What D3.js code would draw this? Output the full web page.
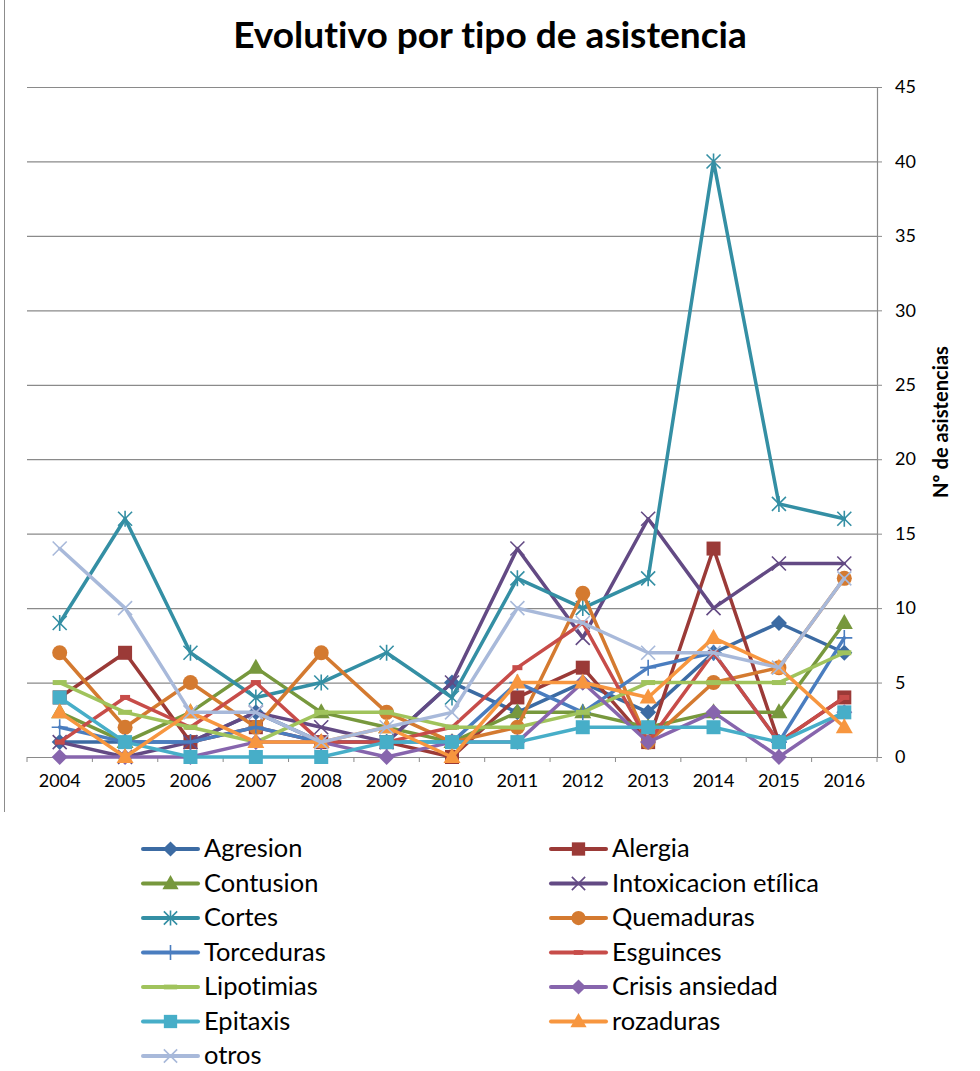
<!DOCTYPE html>
<html>
<head>
<meta charset="utf-8">
<script src="https://cdn.jsdelivr.net/npm/d3@7"></script>
<style>
  html, body { margin: 0; padding: 0; background: #fff; }
  svg { display: block; }
  text { font-family: Lato, "Open Sans", sans-serif; fill: #000; font-variant-ligatures: none; font-feature-settings: "liga" 0, "dlig" 0; }
</style>
</head>
<body>
<svg id="chart" width="980" height="1071"></svg>
<script>
// Years on the category axis
const years = ["2004","2005","2006","2007","2008","2009","2010","2011","2012","2013","2014","2015","2016"];

// Assistance counts per type and year
const agresion     = [1, 1, 1, 3, 1, 1, 5, 3, 5, 3, 7, 9, 7];
const alergia      = [4, 7, 1, 2, 1, 1, 0, 4, 6, 1, 14, 1, 4];
const contusion    = [3, 1, 3, 6, 3, 2, 1, 3, 3, 2, 3, 3, 9];
const intoxicacion = [1, 0, 1, 3, 2, 1, 5, 14, 8, 16, 10, 13, 13];
const cortes       = [9, 16, 7, 4, 5, 7, 4, 12, 10, 12, 40, 17, 16];
const quemaduras   = [7, 2, 5, 2, 7, 3, 1, 2, 11, 1, 5, 6, 12];
const torceduras   = [2, 1, 1, 2, 1, 1, 1, 5, 3, 6, 7, 1, 8];
const esguinces    = [1, 4, 2, 5, 1, 1, 2, 6, 9, 1, 7, 1, 4];
const lipotimias   = [5, 3, 2, 1, 3, 3, 2, 2, 3, 5, 5, 5, 7];
const crisis       = [0, 0, 0, 1, 1, 0, 1, 1, 5, 1, 3, 0, 3];
const epitaxis     = [4, 1, 0, 0, 0, 1, 1, 1, 2, 2, 2, 1, 3];
const rozaduras    = [3, 0, 3, 1, 1, 2, 0, 5, 5, 4, 8, 6, 2];
const otros        = [14, 10, 3, 3, 1, 2, 3, 10, 9, 7, 7, 6, 12];

// Value axis ticks
const yTicks = [0, 5, 10, 15, 20, 25, 30, 35, 40, 45];

const series = [
  { name: "Agresion",             values: agresion,     color: "#3c6ba3", marker: "diamond" },
  { name: "Alergia",              values: alergia,      color: "#9b3a37", marker: "square" },
  { name: "Contusion",            values: contusion,    color: "#77983d", marker: "triangle" },
  { name: "Intoxicacion etílica", values: intoxicacion, color: "#634a84", marker: "x" },
  { name: "Cortes",               values: cortes,       color: "#348fa4", marker: "star" },
  { name: "Quemaduras",           values: quemaduras,   color: "#d47a30", marker: "circle" },
  { name: "Torceduras",           values: torceduras,   color: "#4a7dbf", marker: "plus" },
  { name: "Esguinces",            values: esguinces,    color: "#c74c49", marker: "dash" },
  { name: "Lipotimias",           values: lipotimias,   color: "#a0c35c", marker: "longdash" },
  { name: "Crisis ansiedad",      values: crisis,       color: "#8765ad", marker: "diamond" },
  { name: "Epitaxis",             values: epitaxis,     color: "#47aec8", marker: "square" },
  { name: "rozaduras",            values: rozaduras,    color: "#f7963f", marker: "triangle" },
  { name: "otros",                values: otros,        color: "#a8b9da", marker: "x" }
];

const svg = d3.select("#chart");
const plot = { left: 27, right: 877, top: 87, bottom: 757 };

const x = d3.scaleBand().domain(years).range([plot.left, plot.right]);
const y = d3.scaleLinear().domain([0, 45]).range([plot.bottom, plot.top]);
const cx = d => x(d) + x.bandwidth() / 2;

// Font size that makes a text span a given width
function fittedSize(sel, target) {
  const fs = parseFloat(sel.attr("font-size"));
  return fs * target / sel.node().getComputedTextLength();
}

// Outer chart frame edge on the left
svg.append("line")
  .attr("x1", 4.5).attr("x2", 4.5).attr("y1", 0).attr("y2", 812)
  .attr("stroke", "#8c8c8c").attr("stroke-width", 1);

// Title
const title = svg.append("text")
  .attr("x", 490).attr("y", 48)
  .attr("text-anchor", "middle")
  .attr("font-weight", "bold")
  .attr("font-size", 32)
  .text("Evolutivo por tipo de asistencia");
title.attr("font-size", fittedSize(title, 514).toFixed(2));

// Horizontal gridlines
svg.append("g")
  .attr("transform", `translate(${plot.right},0)`)
  .call(d3.axisRight(y).tickValues(yTicks).tickSize(-(plot.right - plot.left)).tickFormat(""))
  .call(g => g.select(".domain").remove())
  .call(g => g.selectAll("line").attr("stroke", "#8a8a8a").attr("stroke-width", 1.2));

// Right value axis
const yAxis = svg.append("g")
  .attr("transform", `translate(${plot.right},0)`)
  .call(d3.axisRight(y).tickValues(yTicks).tickSize(5).tickPadding(13));
yAxis.select(".domain").attr("stroke", "#8a8a8a").attr("stroke-width", 1.2);
yAxis.selectAll(".tick line").attr("stroke", "#8a8a8a");
yAxis.selectAll(".tick text")
  .attr("font-size", 18).attr("font-family", "Lato, sans-serif").attr("fill", "#000");

// Bottom category axis: line, ticks between categories, labels centered
const xAxis = svg.append("g")
  .attr("transform", `translate(0,${plot.bottom})`)
  .call(d3.axisBottom(x).tickSize(0).tickPadding(17));
xAxis.select(".domain").attr("stroke", "#8a8a8a").attr("stroke-width", 1.2);
xAxis.selectAll(".tick text")
  .attr("font-size", 18).attr("font-family", "Lato, sans-serif").attr("fill", "#000");
svg.append("g").selectAll("line")
  .data(years.concat(["end"]))
  .join("line")
  .attr("x1", (d, i) => plot.left + i * x.bandwidth())
  .attr("x2", (d, i) => plot.left + i * x.bandwidth())
  .attr("y1", plot.bottom).attr("y2", plot.bottom + 5)
  .attr("stroke", "#8a8a8a");

// Value axis title
const yTitle = svg.append("text")
  .attr("transform", "translate(948,422) rotate(-90)")
  .attr("text-anchor", "middle")
  .attr("font-weight", "bold")
  .attr("font-size", 16)
  .text("Nº de asistencias");
yTitle.attr("font-size", fittedSize(yTitle, 152).toFixed(2));

// Marker drawing
function drawMarker(g, type, color, scale) {
  const s = scale || 1;
  switch (type) {
    case "diamond":
      g.append("path").attr("d", `M0,${-8 * s}L${8 * s},0L0,${8 * s}L${-8 * s},0Z`).attr("fill", color);
      break;
    case "square":
      g.append("rect").attr("x", -7 * s).attr("y", -7 * s).attr("width", 14 * s).attr("height", 14 * s).attr("fill", color);
      break;
    case "triangle":
      g.append("path").attr("d", `M0,${-9 * s}L${8.5 * s},${6 * s}L${-8.5 * s},${6 * s}Z`).attr("fill", color);
      break;
    case "circle":
      g.append("circle").attr("r", 7.5 * s).attr("fill", color);
      break;
    case "x":
      g.append("path").attr("d", `M${-7 * s},${-7 * s}L${7 * s},${7 * s}M${7 * s},${-7 * s}L${-7 * s},${7 * s}`)
        .attr("stroke", color).attr("stroke-width", 1.6).attr("fill", "none");
      break;
    case "star":
      g.append("path").attr("d", `M${-7 * s},${-7 * s}L${7 * s},${7 * s}M${7 * s},${-7 * s}L${-7 * s},${7 * s}M0,${-8 * s}L0,${8 * s}`)
        .attr("stroke", color).attr("stroke-width", 1.6).attr("fill", "none");
      break;
    case "plus":
      g.append("path").attr("d", `M${-8 * s},0L${8 * s},0M0,${-8 * s}L0,${8 * s}`)
        .attr("stroke", color).attr("stroke-width", 1.6).attr("fill", "none");
      break;
    case "dash":
      g.append("rect").attr("x", -5 * s).attr("y", -2.5 * s).attr("width", 10 * s).attr("height", 5 * s).attr("fill", color);
      break;
    case "longdash":
      g.append("rect").attr("x", -7 * s).attr("y", -2.5 * s).attr("width", 14 * s).attr("height", 5 * s).attr("fill", color);
      break;
  }
}

// Series lines and markers
const line = d3.line().x((d, i) => cx(years[i])).y(d => y(d));
const seriesG = svg.append("g");
series.forEach(s => {
  const g = seriesG.append("g");
  g.append("path")
    .attr("d", line(s.values))
    .attr("fill", "none")
    .attr("stroke", s.color)
    .attr("stroke-width", 3.5)
    .attr("stroke-linejoin", "round")
    .attr("stroke-linecap", "round");
  s.values.forEach((v, i) => {
    const m = g.append("g").attr("transform", `translate(${cx(years[i])},${y(v)})`);
    drawMarker(m, s.marker, s.color);
  });
});

// Legend: two columns, filled row by row
const legend = svg.append("g");
const legendTexts = [];
series.forEach((s, i) => {
  const col = i % 2, row = Math.floor(i / 2);
  const lx = 143 + col * 408;
  const ly = 849 + row * 34.5;
  const g = legend.append("g").attr("transform", `translate(${lx},${ly})`);
  g.append("line").attr("x1", 0).attr("x2", 55).attr("y1", 0).attr("y2", 0)
    .attr("stroke", s.color).attr("stroke-width", 4).attr("stroke-linecap", "round");
  const m = g.append("g").attr("transform", "translate(27.5,0)");
  drawMarker(m, s.marker, s.color, 0.95);
  const t = g.append("text")
    .attr("x", 61).attr("y", 8)
    .attr("font-size", 21)
    .text(s.name);
  legendTexts.push(t);
});
// One common legend font size, set from the longest entry
const longest = legendTexts.find(t => t.text() === "Intoxicacion etílica");
const legendSize = fittedSize(longest, 207).toFixed(2);
legendTexts.forEach(t => t.attr("font-size", legendSize));
</script>
</body>
</html>
